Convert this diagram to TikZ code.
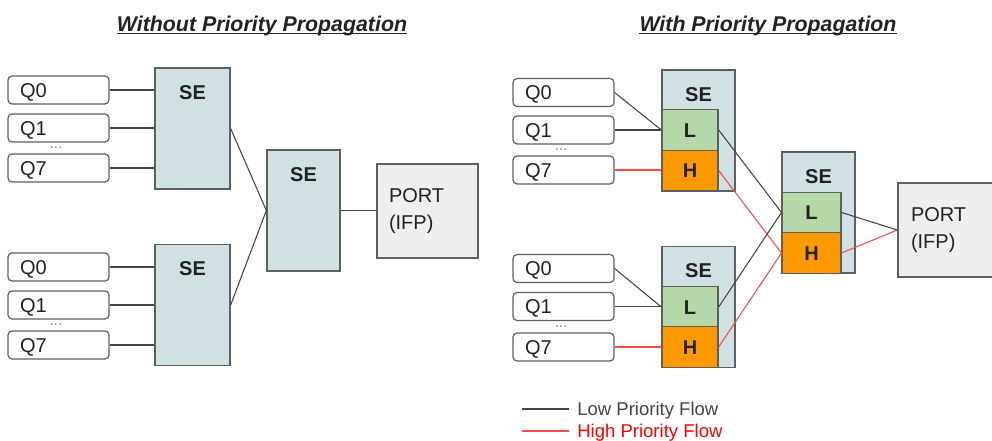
\documentclass[tikz,border=0pt]{standalone}
\usepackage{fontspec}
\setmainfont{Liberation Sans}
\definecolor{seblue}{HTML}{D0E0E3}
\definecolor{lgreen}{HTML}{B6D7A8}
\definecolor{horange}{HTML}{FF9900}
\definecolor{pfill}{HTML}{EFEFEF}
\definecolor{bgray}{HTML}{5F5F5F}
\definecolor{flowgray}{HTML}{444444}
\definecolor{flowred}{HTML}{FF4848}
\definecolor{txt}{HTML}{222222}
\begin{document}
\begin{tikzpicture}[x=0.75pt,y=-0.75pt,
  every node/.style={text=txt},
  base/.style={font=\fontsize{15}{20}\selectfont, text height=10.7pt, text depth=0pt},
  qbox/.style={base, draw=bgray, line width=0.9pt, rounded corners=3pt, fill=white,
    minimum width=75.75pt, minimum height=21pt, inner xsep=9pt, inner ysep=0pt,
    text width=57.75pt, align=left},
  sebox/.style={draw=bgray, line width=1pt, fill=seblue, inner sep=0pt,
    minimum width=#1, minimum height=90.75pt,
    label={[base, font=\fontsize{15}{20}\selectfont\bfseries, anchor=center, yshift=-18.75pt]north:SE}},
  lbox/.style={base, font=\fontsize{15}{20}\selectfont\bfseries, draw=bgray, line width=1pt, fill=lgreen,
    inner sep=0pt, minimum width=#1, minimum height=30.4pt},
  hbox/.style={base, font=\fontsize{15}{20}\selectfont\bfseries, draw=bgray, line width=1pt, fill=horange,
    inner sep=0pt, minimum width=#1, minimum height=30.4pt},
  portbox/.style={draw=bgray, line width=1pt, fill=pfill, font=\fontsize{15}{20.25}\selectfont,
    minimum width=75.75pt, minimum height=#1, inner ysep=0pt, inner xsep=9pt,
    text width=57.75pt, align=left},
  title/.style={font=\fontsize{16}{19}\selectfont\bfseries\itshape, inner xsep=0pt, text height=11.5pt, text depth=0pt},
  dots/.style={font=\fontsize{11}{12}\selectfont, text=gray, inner sep=0pt},
  lowflow/.style={draw=flowgray, line width=0.8pt},
  highflow/.style={draw=flowred, line width=0.8pt},
  legtext/.style={font=\fontsize{13.9}{16}\selectfont, anchor=west, inner sep=0pt, text height=10pt, text depth=0pt}
]
\useasboundingbox (0,0) rectangle (992,441);
\clip (0,0) rectangle (992,441);

% ---------------- Left diagram ----------------
\node[title] (ta) at (262,23.5) {Without Priority Propagation};
\draw[txt, line width=0.9pt] ([yshift=-1.6pt]ta.base west) -- ([yshift=-1.6pt]ta.base east);

\node[qbox] (qa0) at (58.5,90) {Q0};
\node[qbox] (qa1) at (58.5,128) {Q1};
\node[dots] (da) at (56,148) {...};
\node[qbox] (qa7) at (58.5,168) {Q7};

\node[sebox=56.25pt] (sea) at (192.5,128.5) {};

\node[qbox] (qc0) at (58.5,267) {Q0};
\node[qbox] (qc1) at (58.5,305) {Q1};
\node[dots] (dc) at (56,325) {...};
\node[qbox] (qc7) at (58.5,345) {Q7};

\node[sebox=56.25pt] (sec) at (192.5,305) {};

\node[sebox=54.75pt] (seb) at (303.5,210.5) {};

\node[portbox=70.5pt] (porta) at (427.5,211) {PORT\\(IFP)};

\draw[lowflow] (qa0.east) -- (qa0.east -| sea.west);
\draw[lowflow] (qa1.east) -- (qa1.east -| sea.west);
\draw[lowflow] (qa7.east) -- (qa7.east -| sea.west);
\draw[lowflow] (qc0.east) -- (qc0.east -| sec.west);
\draw[lowflow] (qc1.east) -- (qc1.east -| sec.west);
\draw[lowflow] (qc7.east) -- (qc7.east -| sec.west);
\draw[lowflow] (sea.east) -- (seb.west);
\draw[lowflow] (sec.east) -- (seb.west);
\draw[lowflow] (seb.east) -- (seb.east -| porta.west);

% ---------------- Right diagram ----------------
\node[title] (tb) at (768,23.5) {With Priority Propagation};
\draw[txt, line width=0.9pt] ([yshift=-1.6pt]tb.base west) -- ([yshift=-1.6pt]tb.base east);

\node[qbox] (qd0) at (563.5,92.5) {Q0};
\node[qbox] (qd1) at (563.5,130) {Q1};
\node[dots] (dd) at (561,150) {...};
\node[qbox] (qd7) at (563.5,170) {Q7};

\node[sebox=54.75pt] (sed) at (698.5,130.5) {};
\node[lbox=42pt] (ld) at (690,130) {L};
\node[hbox=42pt] (hd) at (690,170.5) {H};

\node[qbox] (qf0) at (563.5,268.5) {Q0};
\node[qbox] (qf1) at (563.5,306.5) {Q1};
\node[dots] (df) at (561,327) {...};
\node[qbox] (qf7) at (563.5,347) {Q7};

\node[sebox=54.75pt] (sef) at (698.5,307) {};
\node[lbox=42pt] (lf) at (690,307) {L};
\node[hbox=42pt] (hf) at (690,347) {H};

\node[sebox=54.75pt] (see) at (818.5,212.5) {};
\node[lbox=44pt] (le) at (811.5,212.5) {L};
\node[hbox=44pt] (he) at (811.5,253) {H};

\node[portbox=70.5pt, inner xsep=9.75pt] (portb) at (949.5,230) {PORT\\(IFP)};

\draw[lowflow] (qd0.east) -- (ld.west);
\draw[lowflow] (qd1.east) -- (qd1.east -| ld.west);
\draw[highflow] (qd7.east) -- (qd7.east -| hd.west);
\draw[lowflow] (qf0.east) -- (lf.west);
\draw[lowflow] (qf1.east) -- (qf1.east -| lf.west);
\draw[highflow] (qf7.east) -- (qf7.east -| hf.west);

\draw[lowflow] (ld.east) -- (le.west);
\draw[highflow] (hd.east) -- (he.west);
\draw[lowflow] (lf.east) -- (le.west);
\draw[highflow] (hf.east) -- (he.west);

\draw[lowflow] (le.east) -- (portb.west);
\draw[highflow] (he.east) -- (portb.west);

% ---------------- Legend ----------------
\coordinate (la) at (522,409);
\coordinate (lb) at (569,409);
\coordinate (ha) at (522,431);
\coordinate (hb) at (569,431);
\draw[lowflow] (la) -- (lb);
\draw[highflow] (ha) -- (hb);
\node[legtext, text=flowgray] (lowt) at (577,409) {Low Priority Flow};
\node[legtext, text=red] (hight) at (577,431) {High Priority Flow};
\end{tikzpicture}
\end{document}
